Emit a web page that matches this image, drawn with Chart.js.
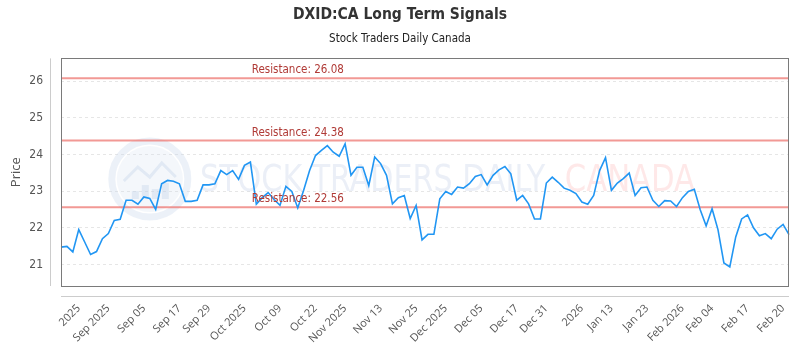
<!DOCTYPE html>
<html>
<head>
<meta charset="utf-8">
<script src="https://cdn.jsdelivr.net/npm/chart.js@4.4.1/dist/chart.umd.min.js"></script>
<style>
  html, body { margin: 0; padding: 0; background: #fff; }
  #wrap { width: 800px; height: 350px; }
</style>
</head>
<body>
<div id="wrap"><canvas id="chart"></canvas></div>
<script>
// closing prices, one per session
const prices = [
  21.47, 21.49, 21.34, 21.95, 21.61, 21.27, 21.35, 21.70, 21.84, 22.20,
  22.23, 22.75, 22.75, 22.64, 22.84, 22.80, 22.50, 23.20, 23.29, 23.27,
  23.20, 22.72, 22.72, 22.75, 23.17, 23.17, 23.20, 23.56, 23.45, 23.56,
  23.32, 23.70, 23.79, 22.64, 22.82, 22.96, 22.77, 22.61, 23.13, 22.99,
  22.54, 23.02, 23.56, 23.97, 24.11, 24.24, 24.06, 23.95, 24.29, 23.43,
  23.65, 23.65, 23.15, 23.93, 23.75, 23.43, 22.65, 22.82, 22.88, 22.25,
  22.61, 21.67, 21.82, 21.82, 22.79, 22.99, 22.91, 23.11, 23.08, 23.20,
  23.40, 23.45, 23.17, 23.43, 23.58, 23.67, 23.47, 22.75, 22.88, 22.65,
  22.24, 22.24, 23.22, 23.38, 23.24, 23.08, 23.02, 22.93, 22.70, 22.64,
  22.88, 23.56, 23.91, 23.02, 23.22, 23.34, 23.49, 22.88, 23.09, 23.11,
  22.75, 22.58, 22.74, 22.73, 22.58, 22.82, 22.99, 23.05, 22.49, 22.05,
  22.52, 21.95, 21.04, 20.93, 21.75, 22.24, 22.35, 22.00, 21.78, 21.84,
  21.70, 21.96, 22.09, 21.81
];

// x-axis tick labels and the session they sit on
const tickLabels = [
  '2025', 'Sep 2025', 'Sep 05', 'Sep 17', 'Sep 29', 'Oct 2025', 'Oct 09', 'Oct 22',
  'Nov 2025', 'Nov 13', 'Nov 25', 'Dec 2025', 'Dec 05', 'Dec 17', 'Dec 31', '2026',
  'Jan 13', 'Jan 23', 'Feb 2026', 'Feb 04', 'Feb 17', 'Feb 20'
];
const tickIndex = [3, 8, 14, 20, 25, 31, 37, 43, 48, 54, 60, 65, 71, 77, 82, 88, 93, 99, 105, 110, 116, 122];

const resistanceLevels = [26.08, 24.38, 22.56];

const yMin = 20.41;
const yMax = 26.62;

const labels = prices.map((_, i) => {
  const k = tickIndex.indexOf(i);
  return k >= 0 ? tickLabels[k] : '';
});

const datasets = [{
  label: 'Price',
  data: prices,
  borderColor: 'rgb(33,150,243)',
  borderWidth: 1.6,
  pointRadius: 0,
  tension: 0,
  fill: false,
  order: 0
}];
resistanceLevels.forEach(level => {
  datasets.push({
    label: 'Resistance ' + level,
    data: prices.map(() => level),
    borderColor: 'rgba(236,110,104,0.7)',
    borderWidth: 2,
    pointRadius: 0,
    fill: false,
    order: 1
  });
});

// faint logo + brand text behind the lines
const watermark = {
  id: 'watermark',
  beforeDatasetsDraw(chart) {
    const { ctx, chartArea: a } = chart;
    const w = a.right - a.left;
    const cy = a.top + (a.bottom - a.top) * 0.53;
    const cx = a.left + w * 0.122;
    ctx.save();
    ctx.strokeStyle = 'rgba(200,214,235,0.35)';
    ctx.lineWidth = 7;
    ctx.beginPath();
    ctx.arc(cx, cy, 38, 0, Math.PI * 2);
    ctx.stroke();
    ctx.fillStyle = 'rgba(210,222,240,0.25)';
    ctx.beginPath();
    ctx.arc(cx, cy, 33, 0, Math.PI * 2);
    ctx.fill();
    ctx.strokeStyle = 'rgba(190,205,230,0.35)';
    ctx.lineWidth = 3;
    ctx.beginPath();
    ctx.moveTo(cx - 26, cy + 2);
    ctx.lineTo(cx - 12, cy - 12);
    ctx.lineTo(cx, cy - 2);
    ctx.lineTo(cx + 12, cy - 16);
    ctx.lineTo(cx + 26, cy - 2);
    ctx.stroke();
    ctx.fillStyle = 'rgba(190,205,230,0.35)';
    [[-18, 8], [-8, 14], [2, 10], [12, 16]].forEach(([dx, h]) => {
      ctx.fillRect(cx + dx, cy + 20 - h, 7, h);
    });

    ctx.font = '38px "DejaVu Sans Condensed", "Liberation Sans Narrow", sans-serif';
    ctx.textBaseline = 'middle';
    ctx.textAlign = 'left';
    const x1 = a.left + w * 0.191, x1End = a.left + w * 0.665;
    const x2 = a.left + w * 0.692, x2End = a.left + w * 0.871;
    const ty = cy + 2;
    const draw = (txt, xs, xe, col) => {
      const m = ctx.measureText(txt).width;
      ctx.save();
      ctx.translate(xs, ty);
      ctx.scale((xe - xs) / m, 1);
      ctx.fillStyle = col;
      ctx.fillText(txt, 0, 0);
      ctx.restore();
    };
    draw('STOCK TRADERS DAILY', x1, x1End, 'rgba(205,216,234,0.4)');
    draw('CANADA', x2, x2End, 'rgba(252,190,190,0.36)');
    ctx.restore();
  }
};

// resistance labels, plot frame and the detached axis lines
const decorations = {
  id: 'decorations',
  afterDatasetsDraw(chart) {
    const { ctx, chartArea: a, scales } = chart;
    ctx.save();
    ctx.font = '11.5px "DejaVu Sans Condensed", "Liberation Sans", sans-serif';
    ctx.fillStyle = '#b03a36';
    ctx.textAlign = 'left';
    ctx.textBaseline = 'bottom';
    const lx = a.left + (a.right - a.left) * 0.262;
    resistanceLevels.forEach(level => {
      const y = scales.y.getPixelForValue(level);
      ctx.fillText('Resistance: ' + level.toFixed(2), lx, y - 2);
    });
    ctx.restore();
  },
  afterDraw(chart) {
    const { ctx, chartArea: a } = chart;
    ctx.save();
    ctx.strokeStyle = '#7a7a7a';
    ctx.lineWidth = 1;
    ctx.strokeRect(Math.round(a.left) + 0.5, Math.round(a.top) + 0.5,
      Math.round(a.right - a.left) - 1, Math.round(a.bottom - a.top));
    ctx.strokeStyle = '#cccccc';
    ctx.beginPath();
    ctx.moveTo(Math.round(a.left) - 10.5, a.top);
    ctx.lineTo(Math.round(a.left) - 10.5, a.bottom);
    ctx.moveTo(a.left, Math.round(a.bottom) + 10.5);
    ctx.lineTo(a.right, Math.round(a.bottom) + 10.5);
    ctx.stroke();
    ctx.restore();
  }
};

new Chart(document.getElementById('chart'), {
  type: 'line',
  data: { labels: labels, datasets: datasets },
  plugins: [watermark, decorations],
  options: {
    responsive: true,
    maintainAspectRatio: false,
    animation: false,
    layout: { autoPadding: false, padding: { left: 11, right: 11, top: 0, bottom: 0 } },
    plugins: {
      legend: { display: false },
      tooltip: { enabled: false },
      title: {
        display: true,
        text: 'DXID:CA Long Term Signals',
        color: '#333',
        font: { family: '"DejaVu Sans Condensed", "Liberation Sans Narrow", sans-serif', size: 15.5, weight: 'bold' },
        padding: { top: 6, bottom: 8 }
      },
      subtitle: {
        display: true,
        text: 'Stock Traders Daily Canada',
        color: '#222',
        font: { family: '"DejaVu Sans Condensed", "Liberation Sans Narrow", sans-serif', size: 11.5 },
        padding: { top: 0, bottom: 12 }
      }
    },
    scales: {
      x: {
        offset: false,
        grid: { display: false, drawTicks: false },
        border: { display: false },
        ticks: {
          autoSkip: false,
          maxRotation: 45,
          minRotation: 45,
          padding: 16,
          color: '#555',
          font: { family: '"Open Sans", sans-serif', size: 11 }
        },
        afterFit(s) {
          s.height = 64;
          s.paddingLeft = 0;
          s.paddingRight = 0;
        }
      },
      y: {
        min: yMin,
        max: yMax,
        grid: { color: '#e6e6e6', drawTicks: false },
        border: { display: false, dash: [3, 3] },
        ticks: {
          stepSize: 1,
          padding: 18,
          color: '#555',
          font: { family: '"DejaVu Sans Condensed", sans-serif', size: 12 },
          callback(v) { return Number.isInteger(v) ? v : null; }
        },
        title: {
          display: true,
          text: 'Price',
          color: '#555',
          font: { family: '"Open Sans", sans-serif', size: 13, lineHeight: 0.8 },
          padding: { top: 0, bottom: 0 }
        },
        afterFit(s) {
          s.width = 50;
          s.paddingTop = 0;
          s.paddingBottom = 0;
        }
      }
    }
  }
});
</script>
</body>
</html>
